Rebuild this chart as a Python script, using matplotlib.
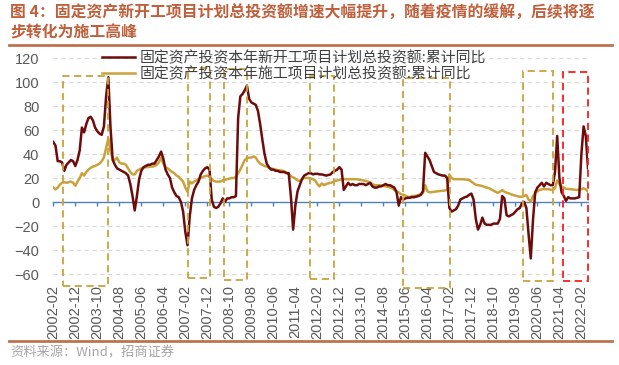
import numpy as np
import pandas as pd
import matplotlib
matplotlib.use("Agg")
import matplotlib.pyplot as plt
from matplotlib.patches import Rectangle
from matplotlib.lines import Line2D

# ==========================================
# DATA (monthly, 2002-02 .. 2022-05)
# ==========================================
START_MONTH = "2002-02"

# 固定资产投资本年新开工项目计划总投资额:累计同比
new_start = (
    [50, 47, 34, 34, 33, 26, 31, 33, 35, 34, 30]                       # 2002
    + [35, 43, 62, 58, 65, 70, 71, 68, 62, 59, 57, 56]                  # 2003
    + [63, 88, 104, 62, 35, 31, 28, 27, 26, 25, 24, 22]                 # 2004
    + [15, 5, -7, 5, 19, 26, 29, 30, 31, 31, 32, 32]                    # 2005
    + [35, 38, 42, 36, 27, 23, 20, 12, 8, 5, 4, 0]                      # 2006
    + [-8, -25, -36, -12, 3, 10, 14, 17, 23, 26, 28, 29]                # 2007
    + [27, 2, -4, -5, -4, -1, 3, 0, 3, 3, 4, 4]                         # 2008
    + [5, 70, 88, 90, 93, 97, 86, 83, 82, 81, 76, 65]                   # 2009
    + [52, 40, 32, 29, 27, 27, 26, 26, 25, 25, 25, 24]                  # 2010
    + [24, 4, -23, -3, 9, 14, 19, 22, 23, 24, 24, 23]                   # 2011
    + [23.5, 23.5, 23, 23, 22.5, 22, 22.5, 23, 25, 26, 27, 29]          # 2012
    + [27, 10, 13, 16, 14, 15, 14, 14, 15, 15, 15, 14]                  # 2013
    + [15, 16, 13, 12, 12, 13, 13, 14, 15, 14, 14, 13]                  # 2014
    + [12, 8, -3, 4, 2, 3, 3.5, 3.5, 4, 4, 4.5, 5]                      # 2015
    + [6, 9, 41, 38, 35, 30, 25, 24, 23, 22.5, 22, 22]                  # 2016
    + [20, -5, -8, -7, -6, -3, 2, 3, 4, 4.5, 6, 7]                      # 2017
    + [2, -14, -23, -19, -13, -18, -19, -19, -19, -18, -18, -18]        # 2018
    + [-14, 5, 3, -11, -12, -11, -10, -8, -6, -5, -1, 0]                # 2019
    + [-5, -27, -47, -15, 8, 12, 14, 16, 13, 16, 15, 14]                # 2020
    + [14, 25, 55, 20, 8, 5, 1, 4, 3, 3, 3, 3.5]                        # 2021
    + [4, 40, 63, 55, 28]                                               # 2022
)

# 固定资产投资本年施工项目计划总投资额:累计同比
under_constr = (
    [12, 10.5, 12, 14.5, 16, 16.5, 16, 16.5, 17, 16, 13.5]
    + [17, 20, 24, 22, 25, 27, 28.5, 29.5, 30, 31, 32, 34]
    + [37, 45, 53, 42, 36, 35, 37, 33, 32, 32, 31, 28]
    + [25, 23, 23, 26, 27, 28, 28.5, 29, 29, 29.5, 29.5, 30]
    + [31, 33, 37, 32, 29, 28, 26.5, 25, 24, 22, 21, 19]
    + [17, 12, 8.5, 17, 15.5, 17, 18, 19, 20, 21, 21.5, 22]
    + [21, 19, 17.5, 17, 17, 17, 18, 18.5, 19, 19.5, 20, 20]
    + [21, 24, 27, 31, 35, 36.5, 37, 37, 38, 37, 34, 32]
    + [31, 30, 29.5, 28.5, 28, 27.5, 27, 26.5, 26.5, 26, 25.5, 24.5]
    + [23, 21.5, 20.5, 19.5, 18, 17.5, 19, 20, 20, 20, 19.5, 19]
    + [18, 15, 13, 15.5, 14, 15, 15.5, 16, 16.5, 17.5, 18, 18.5]
    + [19, 19, 19, 19, 19, 19, 19, 19, 18.5, 18.3, 18, 17.5]
    + [17, 16, 15, 14, 14, 14, 13.8, 13.5, 13, 12.8, 12, 11.5]
    + [10, 9, 8, 6.5, 6, 5.3, 4.5, 4, 5, 5, 5.3, 5.8]
    + [6.5, 7.5, 14, 9, 8, 8.3, 8.5, 8.8, 9, 9.2, 9.4, 9.6]
    + [10, 23, 20, 19, 19, 19, 19, 19, 18.8, 18.5, 18.3, 17]
    + [15.5, 14.5, 14, 13.7, 13.3, 12.5, 12, 11.5, 10.5, 9.5, 8.5, 7.5]
    + [8.6, 10, 8.5, 7.8, 7.2, 6.5, 5.8, 5.3, 4.8, 4.4, 4.4, 5]
    + [5.8, 2, 0.3, 5, 7, 9, 10, 10.5, 10.8, 10.7, 10.6, 10.3]
    + [10, 11.5, 18, 15, 13, 12, 11, 10.8, 10.6, 10.5, 10.2, 10]
    + [10.3, 10.6, 11.4, 10.5, 8.6]
)

assert len(new_start) == len(under_constr), (len(new_start), len(under_constr))

series_names = ["固定资产投资本年新开工项目计划总投资额:累计同比",
                "固定资产投资本年施工项目计划总投资额:累计同比"]

# highlighted periods: (first month, last month, top, bottom) in month index / %
gold_boxes = [(4.4, 25.0, 105, -70), (61.1, 71.2, 112, -63),
              (77.6, 87.9, 111, -65), (116.7, 127.4, 105, -64),
              (158.8, 180.3, 103, -72), (213.6, 227.0, 109, -66)]
red_box = (231.5, 243.2, 108.6, -66)

title_1 = "图 4：固定资产新开工项目计划总投资额增速大幅提升，随着疫情的缓解，后续将逐"
title_2 = "步转化为施工高峰"
source = "资料来源：Wind，招商证券"

# ==========================================
# STYLE
# ==========================================
W, H = 619, 365
DPI = 100
DARK_RED = "#6E0B0B"
GOLD = "#C9A23C"
AXIS_BLUE = "#4F81BD"
TITLE_C = "#BF5F3B"
TEXT_GRAY = "#595959"

plt.rcParams["font.family"] = ["Liberation Sans", "Noto Sans CJK SC", "DejaVu Sans"]

months = pd.date_range(START_MONTH, periods=len(new_start), freq="MS")
x = np.arange(len(months))

fig = plt.figure(figsize=(W / DPI, H / DPI), dpi=DPI)
ax = fig.add_axes([53.3 / W, 79 / H, (588 - 53.3) / W, 228 / H])

ax.plot(x, new_start, color=DARK_RED, lw=1.8, zorder=4, label=series_names[0])
ax.plot(x, under_constr, color=GOLD, lw=1.8, zorder=3, label=series_names[1])

ax.set_xlim(0, len(x) - 1)
ax.set_ylim(-70, 120)
ax.set_yticks(np.arange(-60, 121, 20))

tick_pos = x[::10]
ax.set_xticks(tick_pos)
ax.set_xticklabels([months[i].strftime("%Y-%m") for i in tick_pos])

for s in ["left", "right", "top"]:
    ax.spines[s].set_visible(False)
ax.spines["bottom"].set_position(("data", 0))
ax.spines["bottom"].set_color(AXIS_BLUE)
ax.spines["bottom"].set_linewidth(1.0)
ax.spines["bottom"].set_zorder(2)

ax.tick_params(axis="x", direction="out", length=3, width=1, color=AXIS_BLUE,
               labelrotation=90, labelsize=10.5, labelcolor=TEXT_GRAY, pad=57)
ax.tick_params(axis="y", length=0, labelsize=10.5, labelcolor=TEXT_GRAY, pad=10)

# dashed horizontal gridlines (not at zero, the axis sits there)
for v in ax.get_yticks():
    if v != 0:
        ax.axhline(v, color="#D9D9D9", lw=0.8, ls=(0, (4, 3)), zorder=0)

for x0, x1, top, bot in gold_boxes:
    ax.add_patch(Rectangle((x0, bot), x1 - x0, top - bot, fill=False, ec=GOLD,
                           lw=1.3, ls=(0, (4, 2.5)), clip_on=False, zorder=5))
x0, x1, top, bot = red_box
ax.add_patch(Rectangle((x0, bot), x1 - x0, top - bot, fill=False, ec="#FF1A1A",
                       lw=1.3, ls=(0, (4, 2.5)), clip_on=False, zorder=5))

leg = ax.legend(loc="upper left", bbox_to_anchor=(102 / W, 1 - 51 / H),
                bbox_transform=fig.transFigure, frameon=False, borderpad=0,
                borderaxespad=0, handlelength=2.2, handletextpad=0.3,
                labelspacing=0.05, prop={"family": ["Noto Sans CJK SC"], "size": 10.7})
for t in leg.get_texts():
    t.set_color("#404040")

# title, rules and source
fig.text(10 / W, 1 - 13 / H, title_1, color=TITLE_C, fontsize=11.4, fontweight="bold",
         family=["Noto Sans CJK SC"], va="center", ha="left")
fig.text(10 / W, 1 - 33 / H, title_2, color=TITLE_C, fontsize=11.4, fontweight="bold",
         family=["Noto Sans CJK SC"], va="center", ha="left")
fig.add_artist(Line2D([9 / W, 612 / W], [1 - 45 / H, 1 - 45 / H], color="#C0714F", lw=2))
fig.add_artist(Line2D([9 / W, 612 / W], [1 - 341 / H, 1 - 341 / H], color="#C0714F", lw=2))
fig.text(10 / W, 1 - 353 / H, source, color="#A6A6A6", fontsize=9.5,
         family=["Noto Sans CJK SC"], va="center", ha="left")

fig.savefig("out.png", dpi=DPI)
